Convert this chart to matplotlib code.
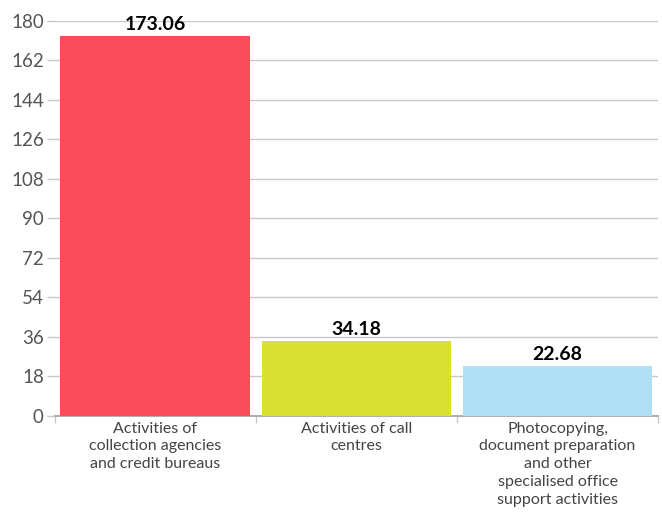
import numpy as np
import matplotlib.pyplot as plt

categories = [
    "Activities of\ncollection agencies\nand credit bureaus",
    "Activities of call\ncentres",
    "Photocopying,\ndocument preparation\nand other\nspecialised office\nsupport activities",
]
values = [173.06, 34.18, 22.68]
labels = ["173.06", "34.18", "22.68"]
colors = ["#fc4c5c", "#d9e030", "#ade1f3"]
yticks = [0, 18, 36, 54, 72, 90, 108, 126, 144, 162, 180]

plt.rcParams['font.family'] = ['Lato', 'DejaVu Sans']

fig = plt.figure(figsize=(6.62, 5.12), dpi=100)
ax = fig.add_axes([0.083, 0.1875, 0.911, 0.7715])

x = np.arange(len(categories))
ax.bar(x, values, width=0.945, color=colors, zorder=3)
for xi, v, lab in zip(x, values, labels):
    ax.text(xi, v + 1.5, lab, ha='center', va='bottom', fontsize=14,
            fontweight='bold', color='black', zorder=4)

ax.set_xlim(-0.5, 2.5)
ax.set_ylim(0, 180)
ax.set_yticks(yticks)
ax.yaxis.grid(True, color='#c8c8c8', linewidth=1, zorder=0)
ax.tick_params(axis='y', labelsize=13.5, labelcolor='#555555', color='#c8c8c8',
               length=6, width=1, pad=2)

ax.set_xticks(x)
ax.set_xticklabels(categories, fontsize=11.5, color='#444444', linespacing=1.35)
ax.tick_params(axis='x', which='major', length=0, pad=4)
ax.set_xticks([-0.5, 0.5, 1.5, 2.5], minor=True)
ax.tick_params(axis='x', which='minor', length=5, color='#c8c8c8', width=1)

for s in ['top', 'right', 'left']:
    ax.spines[s].set_visible(False)
ax.spines['bottom'].set_color('#b0b0b0')
ax.spines['bottom'].set_linewidth(1.5)

fig.savefig('out.png', dpi=100)
